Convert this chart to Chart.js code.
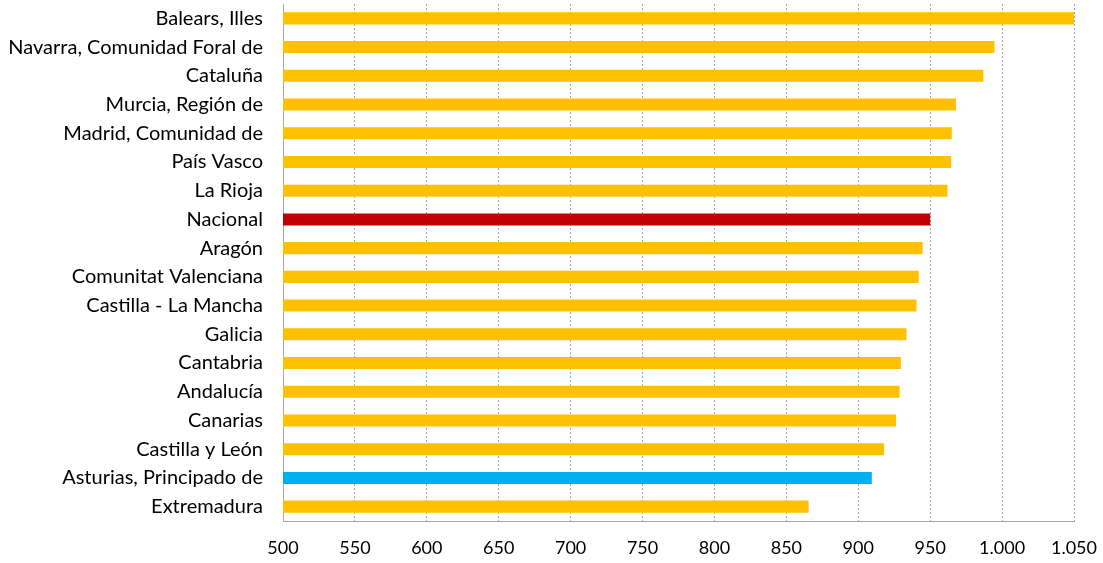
<!DOCTYPE html>
<html>
<head>
<meta charset="utf-8">
<script src="https://cdn.jsdelivr.net/npm/chart.js@4.4.1/dist/chart.umd.min.js"></script>
<style>
  html, body { margin: 0; padding: 0; background: #fff; }
  #wrap { width: 1103px; height: 563px; }
</style>
</head>
<body>
<div id="wrap"><canvas id="chart-id"></canvas></div>
<script>
const regions = [
  "Balears, Illes", "Navarra, Comunidad Foral de", "Cataluña", "Murcia, Región de",
  "Madrid, Comunidad de", "País Vasco", "La Rioja", "Nacional", "Aragón",
  "Comunitat Valenciana", "Castilla - La Mancha", "Galicia", "Cantabria",
  "Andalucía", "Canarias", "Castilla y León", "Asturias, Principado de", "Extremadura"
];
const values = [1050, 994.7, 987, 968, 965, 964.6, 962, 950, 944.7,
  942, 940.5, 933.5, 929.6, 928.7, 926.3, 918, 909.4, 865.5];
const xTicks = [500, 550, 600, 650, 700, 750, 800, 850, 900, 950, 1000, 1050];

const YELLOW = "#FFC000";
const barColors = regions.map(r =>
  r === "Nacional" ? "#C00000" : r === "Asturias, Principado de" ? "#00B0F0" : YELLOW);

const fmt = v => v.toLocaleString("de-DE");

const config = {
  type: 'bar',
  data: {
    labels: regions,
    datasets: [{
      data: values,
      backgroundColor: barColors,
      borderWidth: 0,
      barPercentage: 0.84,
      categoryPercentage: 0.5,
    }],
  },
  options: {
    indexAxis: 'y',
    responsive: true,
    maintainAspectRatio: false,
    animation: false,
    layout: { padding: { top: 4, right: 29, bottom: 0, left: 0 } },
    plugins: { legend: { display: false }, tooltip: { enabled: false } },
    scales: {
      x: {
        min: 500,
        max: 1050,
        afterBuildTicks: s => { s.ticks = xTicks.map(v => ({ value: v })); },
        afterFit: s => { s.height = 42; s.paddingLeft = 0; s.paddingRight = 0; },
        grid: {
          color: ctx => ctx.tick && ctx.tick.value === 500 ? 'rgba(0,0,0,0)' : '#a6a6a6',
          drawTicks: false,
          lineWidth: 1,
        },
        border: { display: true, color: '#a6a6a6', width: 1, dash: [2, 2] },
        ticks: {
          color: '#000',
          padding: 16,
          font: { family: 'Lato', size: 18 },
          callback: v => fmt(v),
        },
      },
      y: {
        afterFit: s => { s.width = 283; s.paddingTop = 0; s.paddingBottom = 0; },
        grid: { display: false, drawTicks: false },
        border: { display: true, color: '#a6a6a6', width: 1 },
        ticks: {
          color: '#000',
          padding: 20,
          font: { family: 'Lato', size: 20 },
        },
      },
    },
  },
};

new Chart(document.getElementById('chart-id'), config);
</script>
</body>
</html>
